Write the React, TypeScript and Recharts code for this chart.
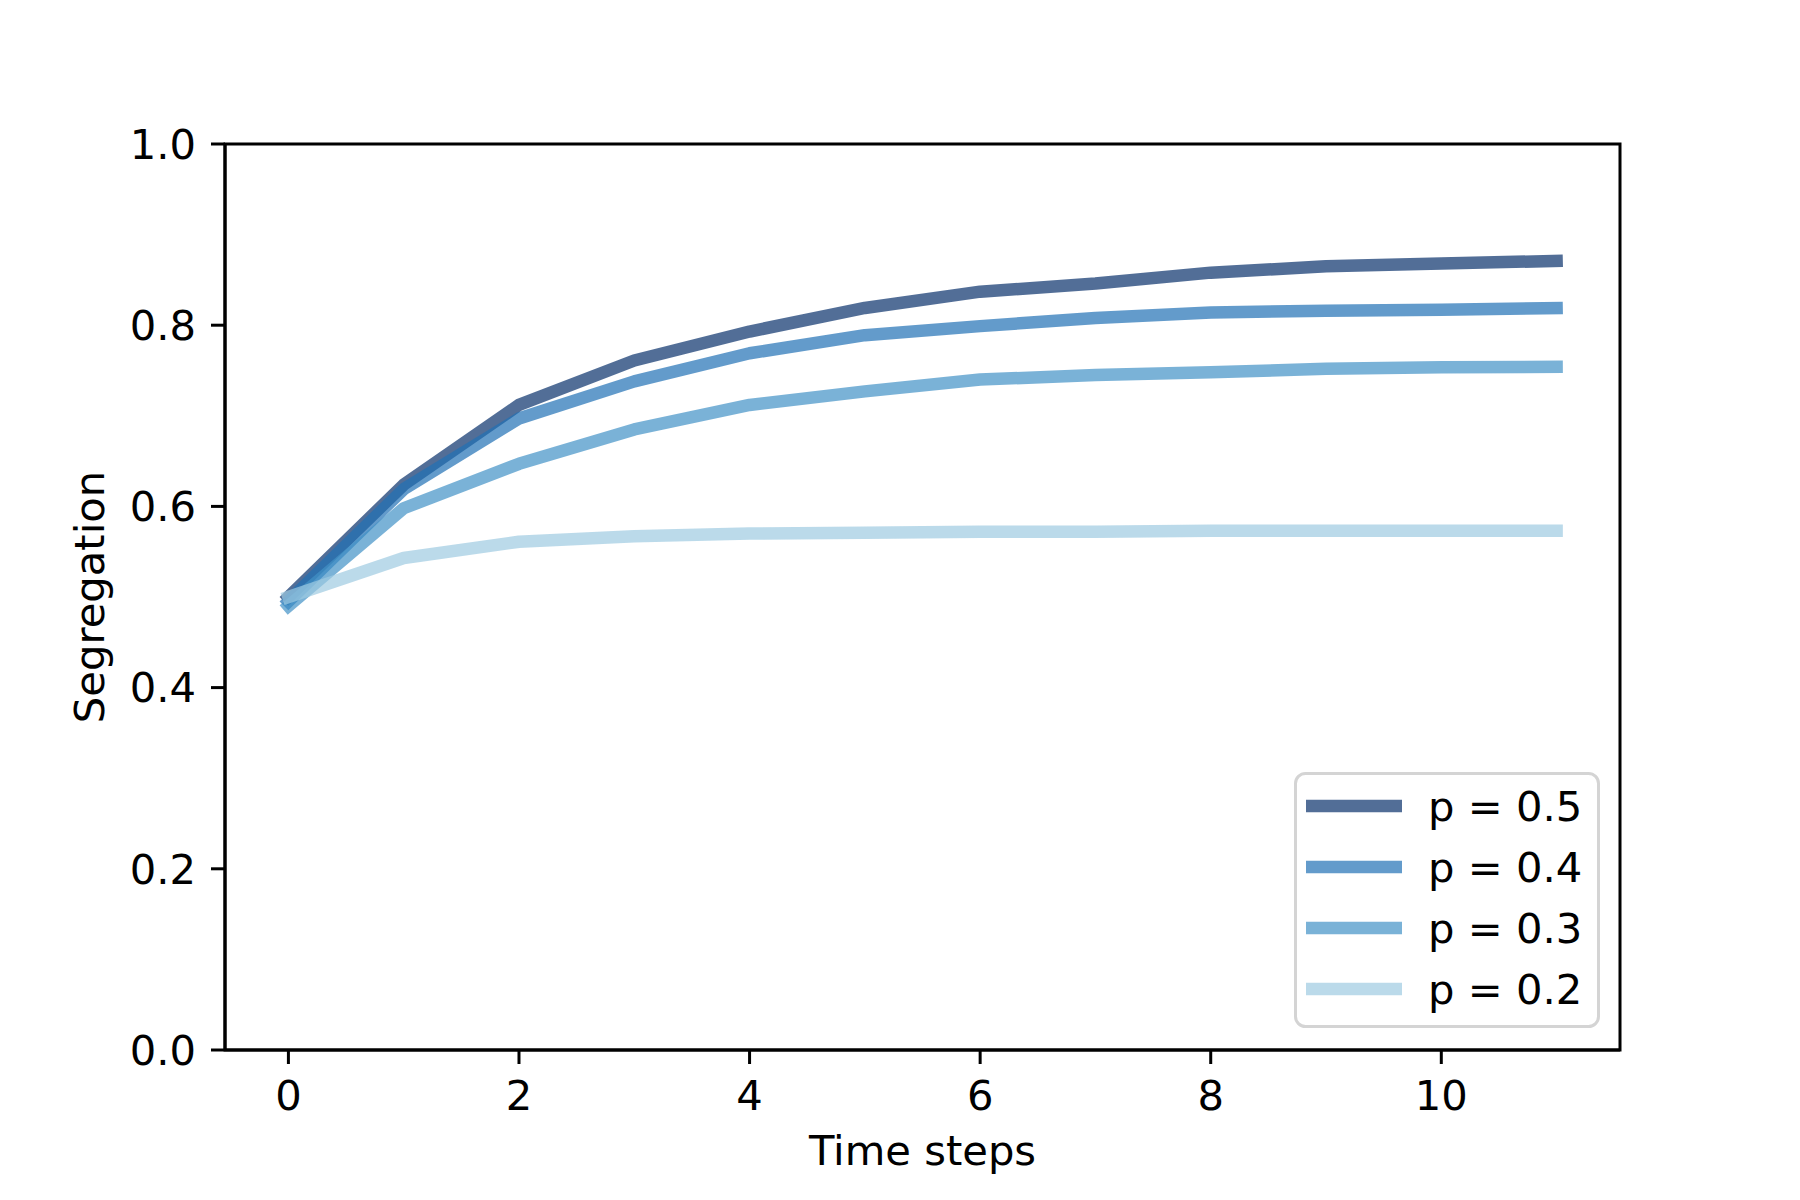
import {
  LineChart,
  Line,
  XAxis,
  YAxis,
  Legend,
  ReferenceArea,
} from "recharts"

const steps = [0, 1, 2, 3, 4, 5, 6, 7, 8, 9, 10, 11]
const seg05 = [0.5, 0.624, 0.712, 0.761, 0.793, 0.819, 0.837, 0.846, 0.858, 0.865, 0.868, 0.871]
const seg04 = [0.495, 0.619, 0.697, 0.738, 0.769, 0.789, 0.799, 0.808, 0.814, 0.816, 0.817, 0.819]
const seg03 = [0.49, 0.598, 0.647, 0.685, 0.712, 0.727, 0.74, 0.745, 0.748, 0.752, 0.7535, 0.754]
const seg02 = [0.5, 0.543, 0.561, 0.567, 0.57, 0.571, 0.572, 0.572, 0.573, 0.573, 0.573, 0.573]

const seriesLabels = ["p = 0.5", "p = 0.4", "p = 0.3", "p = 0.2"]
const seriesColors = ["#08306b", "#2171b5", "#4292c6", "#9ecae1"]
const xTicks = [0, 2, 4, 6, 8, 10]
const yTicks = [0, 0.2, 0.4, 0.6, 0.8, 1.0]

const FONT = "'DejaVu Sans', sans-serif"
const FS = 41.7
const ALPHA = 0.7

// legend drawn like matplotlib's framed legend
function LegendBox({ payload }: { payload?: any[] }) {
  const items = [...(payload || [])].sort(
    (a, b) => seriesLabels.indexOf(a.value) - seriesLabels.indexOf(b.value)
  )
  return (
    <svg width={306} height={256} style={{ display: "block" }}>
      <rect
        x={1.5}
        y={1.5}
        width={303}
        height={253}
        rx={10}
        fill="rgba(255,255,255,0.8)"
        stroke="#d4d4d4"
        strokeWidth={3}
      />
      {items.map((entry, i) => {
        const cy = 34 + i * 61
        return (
          <g key={entry.value}>
            <line
              x1={12}
              x2={108}
              y1={cy}
              y2={cy}
              stroke={entry.color}
              strokeOpacity={ALPHA}
              strokeWidth={12.5}
            />
            <text x={134} y={cy + 15} fontSize={FS} fontFamily={FONT} fill="#000">
              {entry.value}
            </text>
          </g>
        )
      })}
    </svg>
  )
}

export default function App() {
  const data = steps.map((s, i) => ({
    step: s,
    [seriesLabels[0]]: seg05[i],
    [seriesLabels[1]]: seg04[i],
    [seriesLabels[2]]: seg03[i],
    [seriesLabels[3]]: seg02[i],
  }))

  return (
    <div
      style={{
        position: "absolute",
        left: 0,
        top: 0,
        width: 1800,
        height: 1200,
        background: "#fff",
        fontFamily: FONT,
      }}
    >
      <LineChart
        width={1800}
        height={1200}
        data={data}
        margin={{ top: 144, right: 180, bottom: 0, left: 75 }}
      >
        <ReferenceArea
          x1={-0.55}
          x2={11.55}
          y1={0}
          y2={1}
          fill="none"
          stroke="#000"
          strokeWidth={3}
          ifOverflow="visible"
        />
        <XAxis
          dataKey="step"
          type="number"
          domain={[-0.55, 11.55]}
          ticks={xTicks}
          allowDataOverflow
          height={150}
          tickSize={14}
          tickMargin={16}
          axisLine={{ stroke: "#000", strokeWidth: 3 }}
          tickLine={{ stroke: "#000", strokeWidth: 3 }}
          tick={{ fill: "#000", fontSize: FS, fontFamily: FONT }}
          label={{
            value: "Time steps",
            position: "insideBottom",
            offset: 35,
            fill: "#000",
            fontSize: FS,
            fontFamily: FONT,
          }}
        />
        <YAxis
          type="number"
          domain={[0, 1]}
          ticks={yTicks}
          width={150}
          tickSize={14}
          tickMargin={15}
          tickFormatter={(v: number) => v.toFixed(1)}
          axisLine={{ stroke: "#000", strokeWidth: 3 }}
          tickLine={{ stroke: "#000", strokeWidth: 3 }}
          tick={{ fill: "#000", fontSize: FS, fontFamily: FONT }}
          label={{
            content: () => (
              <text
                x={104}
                y={597}
                transform="rotate(-90 104 597)"
                textAnchor="middle"
                fontSize={FS}
                fontFamily={FONT}
                fill="#000"
              >
                Segregation
              </text>
            ),
          }}
        />
        {seriesLabels.map((name, idx) => (
          <Line
            key={name}
            type="linear"
            dataKey={name}
            stroke={seriesColors[idx]}
            strokeOpacity={ALPHA}
            strokeWidth={12.5}
            strokeLinecap="square"
            strokeLinejoin="round"
            dot={false}
            activeDot={false}
            isAnimationActive={false}
          />
        ))}
        <Legend
          layout="vertical"
          align="center"
          verticalAlign="middle"
          content={(props: any) => <LegendBox payload={props.payload} />}
          wrapperStyle={{ position: "absolute", left: 1294, top: 772, width: 306, height: 256 }}
        />
      </LineChart>
    </div>
  )
}
